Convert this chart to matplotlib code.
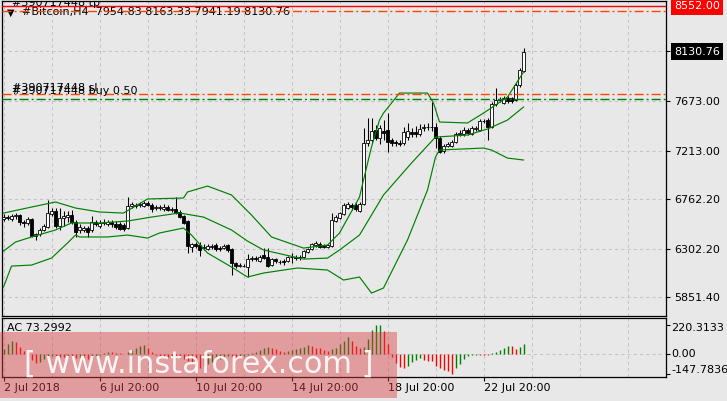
import numpy as np
import matplotlib
matplotlib.use("Agg")
import matplotlib.pyplot as plt
import matplotlib.transforms as mtransforms
from matplotlib.patches import Rectangle

# #Bitcoin H4 candles
opens = [6577, 6595, 6577, 6605, 6614, 6549, 6540, 6577, 6419, 6437,
         6475, 6503, 6623, 6651, 6512, 6586, 6595, 6614, 6549, 6475,
         6475, 6493, 6475, 6549, 6512, 6540, 6530, 6549, 6530, 6530,
         6521, 6493, 6698, 6698, 6707, 6698, 6725, 6707, 6679, 6679,
         6670, 6688, 6660, 6670, 6642, 6605, 6558, 6317, 6345, 6335,
         6307, 6298, 6317, 6335, 6307, 6307, 6335, 6298, 6168, 6140,
         6140, 6131, 6205, 6214, 6187, 6242, 6224, 6149, 6205, 6177,
         6187, 6187, 6224, 6224, 6214, 6224, 6270, 6298, 6335, 6345,
         6326, 6317, 6326, 6558, 6586, 6623, 6679, 6707, 6707, 6651,
         6716, 7283, 7311, 7403, 7329, 7394, 7403, 7311, 7292, 7283,
         7283, 7338, 7385, 7385, 7366, 7422, 7431, 7431, 7431, 7329,
         7208, 7255, 7255, 7292, 7366, 7366, 7404, 7366, 7413, 7404,
         7487, 7496, 7431, 7645, 7682, 7654, 7701, 7701, 7682, 7822,
         7954.83]
closes = [6595, 6586, 6605, 6614, 6549, 6540, 6577, 6419, 6437, 6475,
          6512, 6633, 6651, 6512, 6586, 6605, 6614, 6549, 6456, 6503,
          6493, 6456, 6549, 6530, 6540, 6549, 6549, 6530, 6503, 6484,
          6484, 6698, 6716, 6707, 6716, 6725, 6707, 6670, 6688, 6688,
          6688, 6660, 6670, 6633, 6595, 6540, 6326, 6345, 6326, 6289,
          6317, 6326, 6326, 6298, 6298, 6326, 6289, 6168, 6140, 6149,
          6141, 6205, 6214, 6205, 6224, 6214, 6140, 6205, 6187, 6178,
          6177, 6224, 6225, 6214, 6224, 6279, 6298, 6345, 6354, 6317,
          6317, 6335, 6568, 6595, 6633, 6707, 6716, 6688, 6670, 6716,
          7283, 7311, 7394, 7329, 7422, 7376, 7292, 7283, 7283, 7274,
          7385, 7394, 7366, 7366, 7413, 7431, 7432, 7430, 7329, 7199,
          7255, 7274, 7292, 7366, 7376, 7404, 7376, 7422, 7422, 7487,
          7488, 7431, 7645, 7682, 7692, 7701, 7673, 7673, 7822, 7961,
          8130.76]
highs = [6623, 6614, 6623, 6633, 6623, 6568, 6595, 6586, 6447, 6493,
         6530, 6753, 6679, 6679, 6679, 6651, 6651, 6660, 6568, 6530,
         6512, 6512, 6605, 6568, 6568, 6577, 6568, 6568, 6558, 6549,
         6540, 6781, 6735, 6725, 6735, 6744, 6744, 6725, 6707, 6707,
         6716, 6707, 6688, 6781, 6660, 6614, 6568, 6354, 6363, 6363,
         6345, 6345, 6345, 6354, 6326, 6345, 6345, 6307, 6177, 6168,
         6159, 6251, 6233, 6233, 6242, 6307, 6307, 6214, 6214, 6196,
         6205, 6233, 6261, 6242, 6242, 6289, 6307, 6354, 6372, 6363,
         6345, 6345, 6633, 6614, 6642, 6725, 6735, 6725, 6725, 6735,
         7422, 7515, 7515, 7450, 7450, 7496, 7562, 7329, 7311, 7311,
         7431, 7468, 7422, 7441, 7459, 7459, 7468, 7664, 7468, 7348,
         7274, 7292, 7311, 7385, 7404, 7431, 7422, 7441, 7441, 7506,
         7506, 7515, 7664, 7794, 7710, 7720, 7720, 7710, 7840, 7980,
         8163.33]
lows = [6558, 6568, 6558, 6577, 6521, 6503, 6521, 6410, 6382, 6419,
        6465, 6493, 6605, 6493, 6475, 6512, 6549, 6530, 6410, 6447,
        6456, 6410, 6456, 6512, 6493, 6521, 6512, 6503, 6484, 6475,
        6465, 6484, 6679, 6679, 6688, 6688, 6698, 6642, 6660, 6660,
        6651, 6651, 6642, 6623, 6586, 6530, 6261, 6270, 6307, 6233,
        6289, 6289, 6298, 6279, 6279, 6298, 6270, 6057, 6122, 6131,
        6131, 6038, 6187, 6187, 6177, 6205, 6131, 6140, 6168, 6159,
        6149, 6177, 6168, 6196, 6196, 6214, 6261, 6289, 6317, 6307,
        6307, 6307, 6317, 6549, 6577, 6614, 6670, 6660, 6651, 6642,
        6707, 7255, 7292, 7311, 7273, 7311, 7199, 7255, 7255, 7255,
        7264, 7311, 7338, 7338, 7348, 7394, 7403, 7394, 7236, 7190,
        7190, 7246, 7246, 7283, 7348, 7348, 7357, 7357, 7394, 7394,
        7469, 7311, 7422, 7627, 7664, 7645, 7654, 7654, 7673, 7803,
        7941.19]

# Bollinger bands (vertices)
upper_x = [0, 7, 13, 18, 24, 30, 36, 45, 46, 51, 57, 62, 67, 75, 81, 84,
           89, 90, 92, 94, 95, 99, 106, 107.5, 109, 116, 120, 126, 130]
upper = [6632, 6688, 6735, 6679, 6642, 6632, 6763, 6772, 6828, 6883, 6800,
         6614, 6410, 6307, 6335, 6447, 6781, 6939, 7246, 7496, 7561, 7747,
         7747, 7654, 7478, 7469, 7561, 7710, 7942]
middle_x = [0, 3, 7, 13, 17, 24, 31, 37, 44, 50, 57, 61, 65, 75, 81, 84,
            89, 95, 102, 108, 116, 121, 126, 130]
middle = [6279, 6363, 6410, 6475, 6540, 6540, 6558, 6595, 6633, 6595, 6475,
          6372, 6289, 6205, 6214, 6289, 6428, 6800, 7097, 7338, 7357, 7413,
          7496, 7617]
lower_x = [0, 2, 7, 12, 16, 18, 19, 26, 31, 36, 39, 45, 47, 51, 57, 61, 65,
           73.5, 81, 85, 89, 92, 95, 101, 106, 108, 109, 120, 122, 126, 130]
lower = [5945, 6140, 6149, 6214, 6354, 6428, 6410, 6410, 6428, 6400, 6447,
         6493, 6428, 6261, 6131, 6038, 6075, 6122, 6103, 6010, 6038, 5889,
         5936, 6382, 6846, 7153, 7218, 7236, 7218, 7143, 7125]

# Accelerator oscillator
ac = [43, 79, 98, 94, 55, 26, -5, -41, -65, -58,
      -36, -17, -10, -14, -18, -22, -18, -22, -28, -24,
      -30, -34, -26, -15, -5, 10, 20, 14, 10, 7,
      5, 15, 30, 50, 62, 70, 45, 20, -4, -14,
      -18, -20, -22, -26, -30, -38, -50, -68, -85, -100,
      -85, -70, -55, -42, -32, -22, -14, -20, -25, -20,
      -12, -4, 8, 20, 35, 48, 52, 48, 36, 22,
      18, 24, 32, 40, 46, 55, 66, 60, 48, 44,
      35, 28, 38, 50, 80, 100, 128, 95, 60, 50,
      55, 115, 180, 218, 220.3133, 170, 79, -17, -65, -94,
      -101, -89, -60, -41, -29, -41, -46, -53, -89, -101,
      -113, -125, -147.7836, -101, -70, -36, -12, -5, -2, -4,
      -6, -8, 12, 19, 31, 48, 65, 60, 43, 55,
      73.2992]

# order lines
alert_level = 8552.00
tp_level = 8509
sl_level = 7735
buy_level = 7694
order_id = "#390717448"

price_ticks = [5851.4, 6302.2, 6762.2, 7213.0, 7673.0, 8133.0]
date_bars = [0, 24, 48, 72, 96, 120]
date_labels = ["2 Jul 2018", "6 Jul 20:00", "10 Jul 20:00", "14 Jul 20:00",
               "18 Jul 20:00", "22 Jul 20:00"]

BG = "#E8E8E8"
GRID = "#C4C4C4"
GREEN = "#008000"
plt.rcParams["font.family"] = "DejaVu Sans"
plt.rcParams["font.size"] = 8

W, H = 727, 401
fig = plt.figure(figsize=(W / 100, H / 100), dpi=100, facecolor=BG)
ax = fig.add_axes([2 / W, 85 / H, 664 / W, 315 / H], facecolor=BG)
ac_ax = fig.add_axes([2 / W, 24 / H, 664 / W, 59 / H], facecolor=BG)

n = len(closes)
x = np.arange(n)
o = np.array(opens)
c = np.array(closes)

for a in (ax, ac_ax):
    a.set_xlim(-0.375, 165.625)
    for sp in a.spines.values():
        sp.set_color("black")
        sp.set_linewidth(0.9)
    for xv in range(0, 166, 12):
        a.axvline(xv, color=GRID, lw=0.75, ls=(0, (3, 3)), zorder=0)

# main price window
ax.set_ylim(5676, 8602)
for yv in price_ticks:
    ax.axhline(yv, color=GRID, lw=0.75, ls=(0, (3, 3)), zorder=0)

ax.vlines(x, lows, highs, color="black", lw=0.75, zorder=2)
fill = np.where(c >= o, "white", "black")
ax.bar(x, c - o, bottom=o, width=0.72, color=fill, edgecolor="black",
       linewidth=0.6, zorder=3)

ax.plot(upper_x, upper, color=GREEN, lw=0.85, zorder=4)
ax.plot(middle_x, middle, color=GREEN, lw=0.85, zorder=4)
ax.plot(lower_x, lower, color=GREEN, lw=0.85, zorder=4)

dashdot = (0, (6.5, 2.2, 1.4, 2.2))
ax.axhline(alert_level, color="#FF0000", lw=1.0, zorder=5)
ax.axhline(tp_level, color="#FF4500", lw=1.0, ls=dashdot, zorder=5)
ax.axhline(sl_level, color="#FF4500", lw=1.0, ls=dashdot, zorder=5)
ax.axhline(buy_level, color=GREEN, lw=1.0, ls=dashdot, zorder=5)

tx = 10 / 664
ax.text(tx, tp_level, order_id + " tp", va="baseline", clip_on=True, zorder=6,
        transform=mtransforms.offset_copy(ax.get_yaxis_transform(), fig=fig, y=5, units="dots"))
ax.text(tx, sl_level, order_id + " sl", va="baseline", zorder=6,
        transform=mtransforms.offset_copy(ax.get_yaxis_transform(), fig=fig, y=3, units="dots"))
ax.text(tx, buy_level, order_id + " buy 0.50", va="baseline", zorder=6,
        transform=mtransforms.offset_copy(ax.get_yaxis_transform(), fig=fig, y=5, units="dots"))

ax.text(5 / 664, 1 - 11.5 / 315, "\u25bc", transform=ax.transAxes, va="center",
        fontsize=7)
ax.text(20 / 664, 1 - 11.5 / 315,
        "#Bitcoin,H4  %.2f %.2f %.2f %.2f" % (opens[-1], highs[-1], lows[-1], closes[-1]),
        transform=ax.transAxes, va="center")

ax.set_xticks([])
ax.yaxis.tick_right()
ax.set_yticks(price_ticks)
ax.set_yticklabels(["%.2f" % v for v in price_ticks[:-1]] + [""])
ax.tick_params(axis="y", direction="out", length=3, width=0.8, pad=2.6)

lab_x = 1 + 8 / 664
ax.text(lab_x, alert_level, "%.2f" % alert_level, color="white", va="center",
        transform=ax.get_yaxis_transform(), clip_on=False,
        bbox=dict(boxstyle="square,pad=0.3", fc="#FF0000", ec="none"))
ax.text(lab_x, closes[-1], "%.2f" % closes[-1], color="white", va="center",
        transform=ax.get_yaxis_transform(), clip_on=False,
        bbox=dict(boxstyle="square,pad=0.3", fc="black", ec="none"))

# AC window
ac_ax.set_ylim(-168, 269)
ac_ax.axhline(0, color=GRID, lw=0.75, ls=(0, (3, 3)), zorder=0)
acv = np.array(ac)
rising = np.concatenate([[True], acv[1:] > acv[:-1]])
ac_ax.vlines(x, 0, acv, colors=np.where(rising, GREEN, "#FF0000"), lw=1.0, zorder=3)
ac_ax.text(5 / 664, 1 - 10 / 59, "AC %.4f" % ac[-1], transform=ac_ax.transAxes,
           va="center")

ac_max, ac_min = max(ac), min(ac)
ac_ax.yaxis.tick_right()
ac_ax.set_yticks([ac_max, 0, ac_min])
ac_ax.set_yticklabels([])
ac_ax.tick_params(axis="y", direction="out", length=3, width=0.8)
ytr = ac_ax.get_yaxis_transform()
lx = 1 + 5 / 664
ac_ax.text(lx, ac_max, "%.4f" % ac_max, va="center", clip_on=False,
           transform=mtransforms.offset_copy(ytr, fig=fig, y=-3, units="dots"))
ac_ax.text(lx, 0, "0.00", va="center", clip_on=False, transform=ytr)
ac_ax.text(lx, ac_min, "%.4f" % ac_min, va="center", clip_on=False,
           transform=mtransforms.offset_copy(ytr, fig=fig, y=4, units="dots"))

ac_ax.set_xticks(date_bars)
ac_ax.set_xticklabels(date_labels, ha="left")
ac_ax.tick_params(axis="x", direction="out", length=3, width=0.8, pad=1.5)

# watermark
fig.add_artist(Rectangle((0, 1 - 398 / H), 397 / W, 66 / H, transform=fig.transFigure,
                         fc=(0.85, 0.25, 0.27, 0.45), ec="none", zorder=10))
wm = fig.text(199 / W, 1 - 364 / H, "[ www.instaforex.com ]", color="white",
              alpha=0.9, ha="center", va="center", fontsize=30, zorder=11,
              family=["Liberation Sans Narrow", "DejaVu Sans"])
fig.canvas.draw()
wbox = wm.get_window_extent(fig.canvas.get_renderer())
wm.set_fontsize(30 * 348 / wbox.width)

fig.savefig("out.png", dpi=100, facecolor=BG)
